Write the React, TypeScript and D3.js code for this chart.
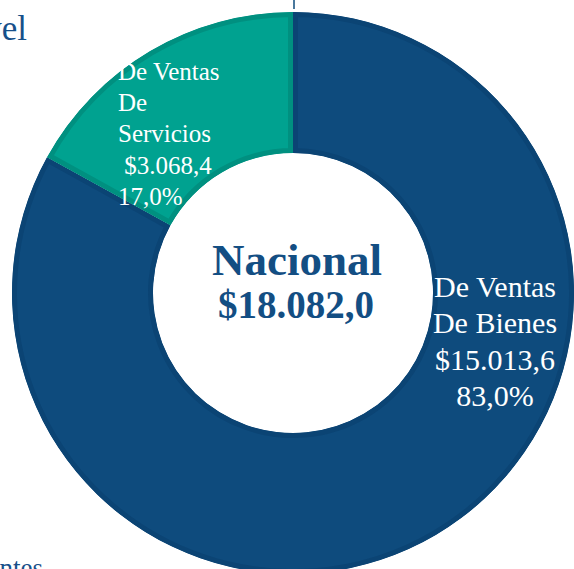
import React from 'react';
import * as d3 from 'd3';

// datos del gráfico
const categories = ['De Ventas De Bienes', 'De Ventas De Servicios'];
const values = [15013.6, 3068.4];
const shares = ['83,0%', '17,0%'];
const amounts = ['$15.013,6', '$3.068,4'];
const totalLabel = ['Nacional', '$18.082,0'];

const fills = ['#0E4B7D', '#00A290'];
const edges = ['#0B4474', '#009080'];

const W = 574;
const H = 569;
const cx = 293;
const cy = 293;
const outerR = 281;
const innerR = 140;

const App = () => {
  const pie = d3.pie<number>().sort(null).value((d) => d);
  const arcs = pie(values);
  const arc = d3.arc<d3.PieArcDatum<number>>().innerRadius(innerR).outerRadius(outerR);

  const serif = '"Liberation Serif", "Times New Roman", serif';

  // etiquetas multilínea por segmento
  const bienesLines = ['De Ventas', 'De Bienes', amounts[0], shares[0]];
  const serviciosLines = ['De Ventas', 'De', 'Servicios', '\u00a0' + amounts[1], shares[1]];

  return (
    <svg width={W} height={H} style={{ position: 'absolute', left: 0, top: 0 }}>
      <defs>
        {arcs.map((a, i) => (
          <clipPath id={`clip-${i}`} key={i}>
            <path d={arc(a) || ''} />
          </clipPath>
        ))}
      </defs>
      <g transform={`translate(${cx},${cy})`}>
        {arcs.map((a, i) => (
          <path
            key={categories[i]}
            d={arc(a) || ''}
            fill={fills[i]}
            stroke={edges[i]}
            strokeWidth={10}
            clipPath={`url(#clip-${i})`}
          />
        ))}
      </g>
      <line x1={294} x2={294} y1={0} y2={9} stroke="#0E4B7D" strokeWidth={1.5} />

      <text x={27} y={40} textAnchor="end" fontFamily={serif} fontSize={35} fill="#17508A">
        Nivel
      </text>
      <text x={43} y={577} textAnchor="end" fontFamily={serif} fontSize={27} fill="#17508A">
        Componentes
      </text>

      <text fontFamily={serif} fontSize={25} fill="#fff">
        {serviciosLines.map((t, i) => (
          <tspan key={i} x={118} y={80 + i * 31.2}>
            {t}
          </tspan>
        ))}
      </text>
      <text fontFamily={serif} fontSize={30} fill="#fff" textAnchor="middle">
        {bienesLines.map((t, i) => (
          <tspan key={i} x={495} y={297 + i * 36.3}>
            {t}
          </tspan>
        ))}
      </text>

      <text x={297} y={275} textAnchor="middle" fontFamily={serif} fontWeight="bold" fontSize={45} fill="#134E83">
        {totalLabel[0]}
      </text>
      <text x={296} y={318} textAnchor="middle" fontFamily={serif} fontWeight="bold" fontSize={39} fill="#134E83">
        {totalLabel[1]}
      </text>
    </svg>
  );
};

export default App;
